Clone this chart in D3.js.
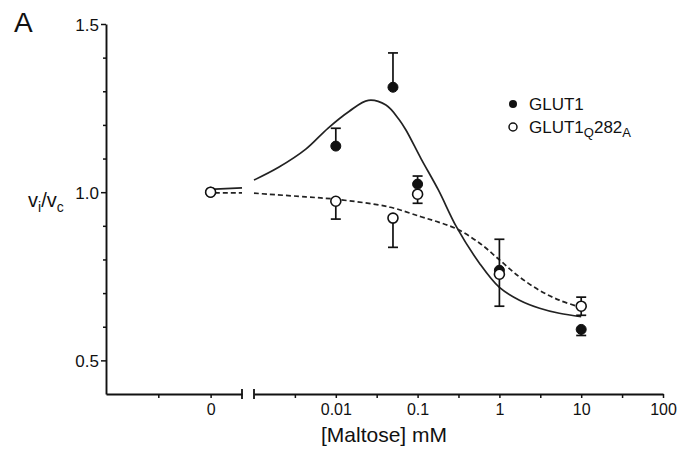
<!DOCTYPE html>
<html>
<head>
<meta charset="utf-8">
<script src="https://cdnjs.cloudflare.com/ajax/libs/d3/7.8.5/d3.min.js"></script>
<style>
  body { margin: 0; background: #fff; }
  svg text { font-family: "Liberation Sans", Arial, Helvetica, sans-serif; fill: #111; }
</style>
</head>
<body>
<div id="chart"></div>
<script>
// measured points, concentration in mM (0 = no maltose, drawn on the left segment)
var concGlut = [0, 0.01, 0.05, 0.1, 1, 10];
var meanGlut = [1.0, 1.137, 1.312, 1.024, 0.768, 0.592];
var errGlut  = [0, 0.053, 0.102, 0.024, 0.092, 0.018];
var sideGlut = [0, 1, 1, 1, 1, -1];   // which side of the point the error bar is drawn

var concMut = [0, 0.01, 0.05, 0.1, 1, 10];
var meanMut = [1.0, 0.973, 0.923, 0.994, 0.756, 0.661];
var errMut  = [0, 0.053, 0.087, 0.027, 0.095, 0.027];
var sideMut = [0, -1, -1, -1, -1, 0];

// fitted curves
var fitGlutX = [0.001, 0.002, 0.0043, 0.008, 0.0145, 0.025, 0.041, 0.059, 0.072, 0.11, 0.18, 0.3, 0.57, 1, 1.76, 3.1, 5.4, 10];
var fitGlutY = [1.036, 1.074, 1.128, 1.19, 1.24, 1.273, 1.259, 1.217, 1.185, 1.1, 1.006, 0.896, 0.789, 0.717, 0.679, 0.655, 0.64, 0.63];
var fitMutX = [0.001, 0.0043, 0.01, 0.045, 0.11, 0.18, 0.3, 0.57, 1, 1.76, 3.1, 5.4, 10];
var fitMutY = [0.997, 0.986, 0.979, 0.956, 0.927, 0.911, 0.891, 0.849, 0.799, 0.748, 0.708, 0.679, 0.657];
// short pieces of the curves next to the zero point
var zeroFitX = [0.08, 0.6];
var zeroGlutY = [1.009, 1.013];
var zeroMutY = [0.998, 0.998];

var yMajor = [0.5, 1.0, 1.5];
var yMinor = [0.6, 0.7, 0.8, 0.9, 1.1, 1.2, 1.3, 1.4];
var xMajor = [0.01, 0.1, 1, 10, 100];
var xMinor = [0.00316, 0.0316, 0.316, 3.16, 31.6];
var xMajorLabels = ["0.01", "0.1", "1", "10", "100"];

var width = 683, height = 457;

var svg = d3.select("#chart").append("svg")
    .attr("width", width)
    .attr("height", height);

// scales: y linear, x split into a short linear piece for zero and a log piece
var y = d3.scaleLinear().domain([0.4, 1.5]).range([394, 24]);
var xZero = d3.scaleLinear().domain([-2, 0.6]).range([106, 242]);
var xLog = d3.scaleLog().domain([0.001, 100]).range([254, 663]);

function xPos(c) {
  return c === 0 ? xZero(0) : xLog(c);
}

var axisW = 1.9;

// y axis
var yAxis = svg.append("g")
    .attr("transform", "translate(106,0)")
    .call(d3.axisLeft(y).tickValues(yMajor).tickFormat(d3.format(".1f"))
      .tickSize(5).tickSizeOuter(0).tickPadding(2));
yAxis.selectAll("text").attr("font-size", 17).attr("dy", "0.38em");
svg.append("g")
    .attr("transform", "translate(106,0)")
    .call(d3.axisLeft(y).tickValues(yMinor).tickFormat("").tickSize(3).tickSizeOuter(0))
    .select(".domain").remove();

// x axis, zero segment
var xAxis0 = svg.append("g")
    .attr("transform", "translate(0,394)")
    .call(d3.axisBottom(xZero).tickValues([-1, 0])
      .tickFormat(function(d) { return d === 0 ? "0" : ""; })
      .tickSize(4).tickSizeOuter(0).tickPadding(6));

// x axis, log segment
var xAxisLog = svg.append("g")
    .attr("transform", "translate(0,394)")
    .call(d3.axisBottom(xLog).tickValues(xMajor)
      .tickFormat(function(d, i) { return xMajorLabels[i]; })
      .tickSize(4).tickSizeOuter(0).tickPadding(6));
svg.append("g")
    .attr("transform", "translate(0,394)")
    .call(d3.axisBottom(xLog).tickValues(xMinor).tickFormat("").tickSize(4).tickSizeOuter(0))
    .select(".domain").remove();

svg.selectAll(".domain").attr("stroke-width", axisW).attr("stroke", "#111");
svg.selectAll(".tick line").attr("stroke-width", 1.5).attr("stroke", "#111");
xAxis0.selectAll("text").attr("font-size", 16);
xAxisLog.selectAll("text").attr("font-size", 16);

// break marks at the ends of the two x segments
svg.selectAll(".brk")
    .data([xZero.range()[1], xLog.range()[0]])
  .enter().append("line")
    .attr("class", "brk")
    .attr("x1", function(d) { return d; })
    .attr("x2", function(d) { return d; })
    .attr("y1", 389)
    .attr("y2", 399)
    .attr("stroke", "#111")
    .attr("stroke-width", 1.8);

// fitted curves
var line = d3.line()
    .x(function(d) { return d.px; })
    .y(function(d) { return y(d.v); })
    .curve(d3.curveCatmullRom.alpha(0.5));

function pts(xs, ys, sx) {
  return xs.map(function(c, i) { return {px: sx(c), v: ys[i]}; });
}

var curveStyle = function(sel, dashed) {
  sel.attr("fill", "none")
     .attr("stroke", "#222")
     .attr("stroke-width", 1.7)
     .attr("stroke-dasharray", dashed ? "5,3" : null);
};

svg.append("path").datum(pts(fitGlutX, fitGlutY, xLog)).attr("d", line).call(curveStyle, false);
svg.append("path").datum(pts(fitMutX, fitMutY, xLog)).attr("d", line).call(curveStyle, true);
svg.append("path").datum(pts(zeroFitX, zeroGlutY, xZero)).attr("d", line).call(curveStyle, false);
svg.append("path").datum(pts(zeroFitX, zeroMutY, xZero)).attr("d", line).call(curveStyle, true);

// error bars + points
function drawSeries(conc, mean, err, side, filled) {
  var data = conc.map(function(c, i) {
    return {c: c, v: mean[i], e: err[i], s: side[i]};
  });
  var g = svg.append("g");

  var withErr = data.filter(function(d) { return d.e > 0; });
  var bars = g.selectAll(".eb").data(withErr).enter().append("g");
  bars.append("line")
      .attr("x1", function(d) { return xPos(d.c); })
      .attr("x2", function(d) { return xPos(d.c); })
      .attr("y1", function(d) { return y(d.s >= 0 ? d.v + d.e : d.v); })
      .attr("y2", function(d) { return y(d.s <= 0 ? d.v - d.e : d.v); })
      .attr("stroke", "#111").attr("stroke-width", 1.7);
  // caps
  bars.each(function(d) {
    var ends = [];
    if (d.s >= 0) ends.push(d.v + d.e);
    if (d.s <= 0) ends.push(d.v - d.e);
    d3.select(this).selectAll(".cap").data(ends).enter().append("line")
      .attr("x1", xPos(d.c) - 5)
      .attr("x2", xPos(d.c) + 5)
      .attr("y1", function(e) { return y(e); })
      .attr("y2", function(e) { return y(e); })
      .attr("stroke", "#111").attr("stroke-width", 1.7);
  });

  g.selectAll("circle").data(data).enter().append("circle")
      .attr("cx", function(d) { return xPos(d.c); })
      .attr("cy", function(d) { return y(d.v); })
      .attr("r", 5)
      .attr("fill", filled ? "#111" : "#fff")
      .attr("stroke", "#111")
      .attr("stroke-width", filled ? 1 : 1.6);
}

drawSeries(concGlut, meanGlut, errGlut, sideGlut, true);
drawSeries(concMut, meanMut, errMut, sideMut, false);

// axis titles
svg.append("text")
    .attr("x", 384).attr("y", 442)
    .attr("text-anchor", "middle")
    .attr("font-size", 21)
    .text("[Maltose] mM");

var yl = svg.append("text").attr("x", 28).attr("y", 207).attr("font-size", 20);
yl.append("tspan").text("v");
yl.append("tspan").attr("font-size", 14).attr("dy", 5).text("i");
yl.append("tspan").attr("dy", -5).text("/v");
yl.append("tspan").attr("font-size", 14).attr("dy", 5).text("c");

// panel letter
svg.append("text").attr("x", 14).attr("y", 32).attr("font-size", 28).text("A");

// legend
svg.append("circle").attr("cx", 513).attr("cy", 104).attr("r", 4).attr("fill", "#111");
svg.append("circle").attr("cx", 513).attr("cy", 127).attr("r", 4)
    .attr("fill", "#fff").attr("stroke", "#111").attr("stroke-width", 1.5);
svg.append("text").attr("x", 529).attr("y", 110).attr("font-size", 17).text("GLUT1");
var lg = svg.append("text").attr("x", 529).attr("y", 133).attr("font-size", 17);
lg.append("tspan").text("GLUT1");
lg.append("tspan").attr("font-size", 13).attr("dy", 4).text("Q");
lg.append("tspan").attr("dy", -4).text("282");
lg.append("tspan").attr("font-size", 13).attr("dy", 4).text("A");
</script>
</body>
</html>
